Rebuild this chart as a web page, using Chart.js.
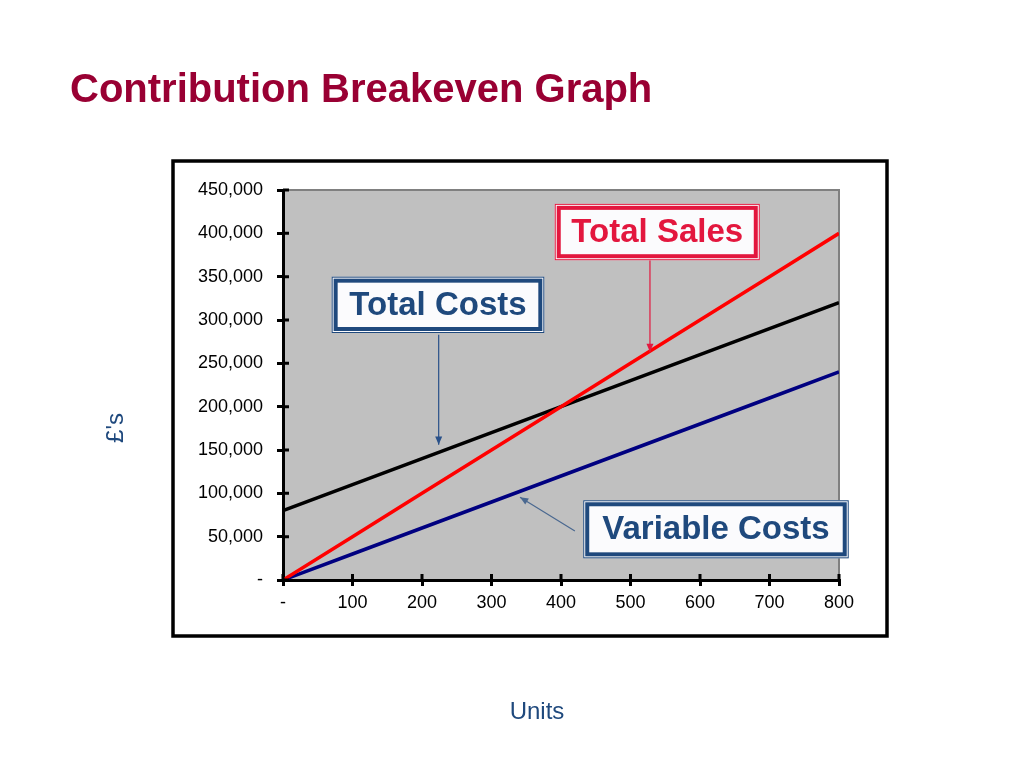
<!DOCTYPE html>
<html>
<head>
<meta charset="utf-8">
<title>Contribution Breakeven Graph</title>
<script src="https://cdn.jsdelivr.net/npm/chart.js@4/dist/chart.umd.min.js"></script>
<style>
    html, body { margin: 0; padding: 0; background: #ffffff; }
    canvas { display: block; }
</style>
</head>
<body>
<canvas id="breakeven" width="1024" height="768"></canvas>
<script>
(function () {
    "use strict";

    // Data
    const units = [0, 100, 200, 300, 400, 500, 600, 700, 800];
    const totalSales = [0, 50000, 100000, 150000, 200000, 250000, 300000, 350000, 400000];
    const totalCosts = [80000, 110000, 140000, 170000, 200000, 230000, 260000, 290000, 320000];
    const variableCosts = [0, 30000, 60000, 90000, 120000, 150000, 180000, 210000, 240000];

    const xTitle = "Units";
    const yTitle = "£'s";

    const FONT = "'Liberation Sans', Arial, sans-serif";
    const NAVY = "#1f497d";
    const CRIMSON = "#e3173e";

    const toPoints = (ys) => units.map((x, i) => ({ x: x, y: ys[i] }));

    // Callout boxes, placed in data units
    const callouts = [
        {
            text: "Total Sales", color: CRIMSON, arrow: CRIMSON,
            box: { x1: 391, x2: 686, y1: 369000, y2: 434000 },
            from: { x: 528, y: 369000 }, to: { x: 528, y: 263000 },
        },
        {
            text: "Total Costs", color: NAVY, arrow: "#2a5189",
            box: { x1: 70, x2: 376, y1: 285000, y2: 350000 },
            from: { x: 224, y: 283000 }, to: { x: 224, y: 156000 },
        },
        {
            text: "Variable Costs", color: NAVY, arrow: "#4a6890",
            box: { x1: 432, x2: 814, y1: 25000, y2: 92000 },
            from: { x: 420, y: 56500 }, to: { x: 341, y: 95500 },
        },
    ];

    function arrowHead(ctx, x1, y1, x2, y2, size) {
        const a = Math.atan2(y2 - y1, x2 - x1);
        ctx.beginPath();
        ctx.moveTo(x2, y2);
        ctx.lineTo(x2 - size * Math.cos(a - 0.4), y2 - size * Math.sin(a - 0.4));
        ctx.lineTo(x2 - size * Math.cos(a + 0.4), y2 - size * Math.sin(a + 0.4));
        ctx.closePath();
        ctx.fill();
    }

    const decorations = {
        id: "decorations",
        beforeDraw(chart) {
            const { ctx, chartArea: a } = chart;
            ctx.save();
            // outer frame
            ctx.strokeStyle = "#000000";
            ctx.lineWidth = 3.5;
            ctx.strokeRect(a.left - 110, a.top - 29, a.width + 158, a.height + 85);
            // plot background
            ctx.fillStyle = "#c0c0c0";
            ctx.fillRect(a.left, a.top, a.width, a.height);
            ctx.strokeStyle = "#808080";
            ctx.lineWidth = 2;
            ctx.beginPath();
            ctx.moveTo(a.left, a.top);
            ctx.lineTo(a.right, a.top);
            ctx.lineTo(a.right, a.bottom);
            ctx.stroke();
            ctx.restore();
        },
        afterDraw(chart) {
            const { ctx, chartArea: a, scales } = chart;
            const sx = scales.x, sy = scales.y;
            ctx.save();
            // inner half of the tick marks
            ctx.strokeStyle = "#000000";
            ctx.lineWidth = 3;
            ctx.beginPath();
            sy.ticks.forEach((t) => {
                const y = sy.getPixelForValue(t.value);
                ctx.moveTo(a.left, y);
                ctx.lineTo(a.left + 6, y);
            });
            sx.ticks.forEach((t) => {
                const x = sx.getPixelForValue(t.value);
                ctx.moveTo(x, a.bottom);
                ctx.lineTo(x, a.bottom - 6);
            });
            ctx.stroke();

            // axis titles, set off-centre like the slide
            ctx.fillStyle = NAVY;
            ctx.font = "24px " + FONT;
            ctx.textAlign = "center";
            ctx.textBaseline = "middle";
            ctx.fillText(xTitle, a.left + a.width / 2 - 24, a.bottom + 132);
            ctx.save();
            ctx.translate(a.left - 167, a.top + a.height / 2 + 43);
            ctx.rotate(-Math.PI / 2);
            ctx.fillText(yTitle, 0, 0);
            ctx.restore();

            // callouts
            callouts.forEach((c) => {
                const fx = sx.getPixelForValue(c.from.x), fy = sy.getPixelForValue(c.from.y);
                const tx = sx.getPixelForValue(c.to.x), ty = sy.getPixelForValue(c.to.y);
                ctx.strokeStyle = c.arrow;
                ctx.fillStyle = c.arrow;
                ctx.lineWidth = 1.2;
                ctx.beginPath();
                ctx.moveTo(fx, fy);
                ctx.lineTo(tx, ty);
                ctx.stroke();
                arrowHead(ctx, fx, fy, tx, ty, 9);

                const x1 = sx.getPixelForValue(c.box.x1), x2 = sx.getPixelForValue(c.box.x2);
                const y1 = sy.getPixelForValue(c.box.y2), y2 = sy.getPixelForValue(c.box.y1);
                ctx.fillStyle = "#fbfbfd";
                ctx.fillRect(x1, y1, x2 - x1, y2 - y1);
                ctx.strokeStyle = c.color;
                ctx.lineWidth = 1;
                ctx.strokeRect(x1 + 0.5, y1 + 0.5, x2 - x1 - 1, y2 - y1 - 1);
                ctx.lineWidth = 4;
                ctx.strokeRect(x1 + 4, y1 + 4, x2 - x1 - 8, y2 - y1 - 8);

                ctx.fillStyle = c.color;
                ctx.font = "bold 33px " + FONT;
                ctx.textAlign = "center";
                ctx.textBaseline = "middle";
                ctx.fillText(c.text, (x1 + x2) / 2, (y1 + y2) / 2 + 1);
            });
            ctx.restore();
        },
    };

    const line = (label, ys, color) => ({
        label: label,
        data: toPoints(ys),
        borderColor: color,
        backgroundColor: color,
        borderWidth: 3.5,
        pointRadius: 0,
        tension: 0,
        fill: false,
    });

    new Chart(document.getElementById("breakeven").getContext("2d"), {
        type: "line",
        data: {
            datasets: [
                line("Total Sales", totalSales, "#ff0000"),
                line("Total Costs", totalCosts, "#000000"),
                line("Variable Costs", variableCosts, "#000080"),
            ],
        },
        options: {
            responsive: false,
            animation: false,
            devicePixelRatio: 1,
            layout: {
                padding: { left: 70, right: 185, top: 0, bottom: 0 },
            },
            plugins: {
                legend: { display: false },
                tooltip: { enabled: false },
                title: {
                    display: true,
                    text: "Contribution Breakeven Graph",
                    align: "start",
                    color: "#990033",
                    font: { family: FONT, size: 40, weight: "bold" },
                    padding: { top: 67, bottom: 75 },
                },
            },
            scales: {
                x: {
                    type: "linear",
                    min: 0,
                    max: 800,
                    afterFit: (scale) => { scale.height = 188; },
                    ticks: {
                        stepSize: 100,
                        color: "#000000",
                        padding: 6,
                        font: { family: FONT, size: 18 },
                        callback: (value) => (value === 0 ? "-" : String(value)),
                    },
                    grid: {
                        drawOnChartArea: false,
                        color: "#000000",
                        lineWidth: 3,
                        tickLength: 6,
                    },
                    border: { color: "#000000", width: 3 },
                },
                y: {
                    min: 0,
                    max: 450000,
                    afterFit: (scale) => { scale.width = 213; },
                    ticks: {
                        stepSize: 50000,
                        color: "#000000",
                        padding: 14,
                        font: { family: FONT, size: 18 },
                        callback: (value) => (value === 0 ? "-" : value.toLocaleString("en-GB")),
                    },
                    grid: {
                        drawOnChartArea: false,
                        color: "#000000",
                        lineWidth: 3,
                        tickLength: 6,
                    },
                    border: { color: "#000000", width: 3 },
                },
            },
        },
        plugins: [decorations],
    });
})();
</script>
</body>
</html>
